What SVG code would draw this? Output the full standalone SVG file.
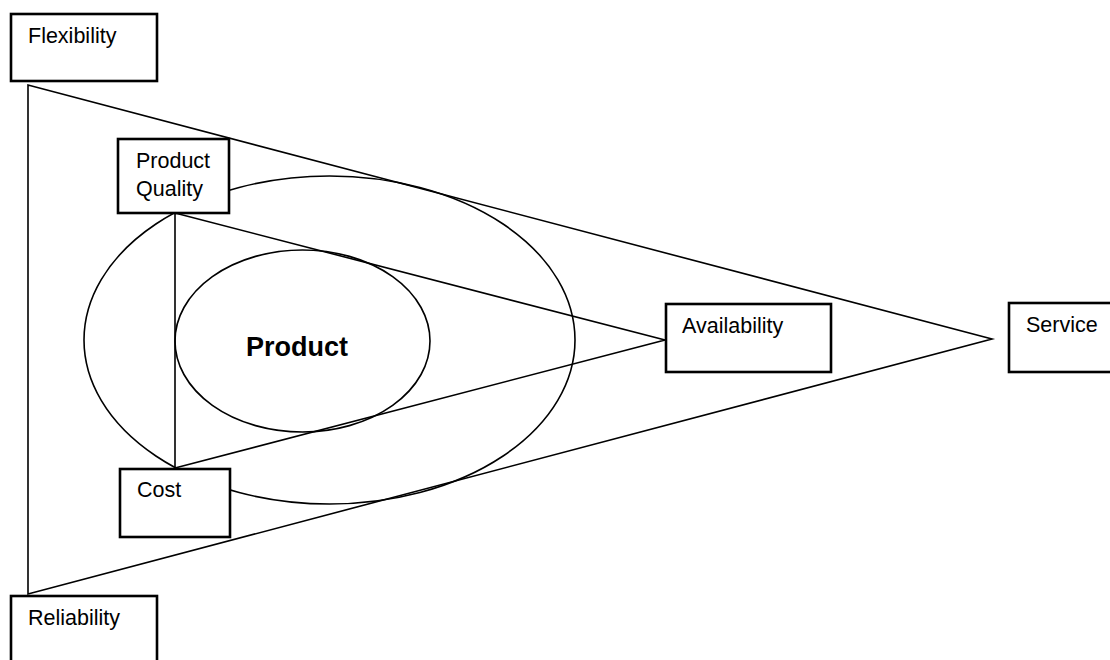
<svg xmlns="http://www.w3.org/2000/svg" width="1110" height="660" viewBox="0 0 1110 660">
<style>
.ln{fill:none;stroke:#000;stroke-width:1.6}
.bx{fill:#fff;stroke:#000;stroke-width:2.6}
.t{font-family:"Liberation Sans",Arial,sans-serif;font-size:21.5px;fill:#000}
.big{font-family:"Liberation Sans",Arial,sans-serif;font-size:27px;font-weight:bold;fill:#000}
</style>
<rect width="1110" height="660" fill="#fff"/>
<g id="connectors">
<polygon class="ln" points="28,85 28,594 992,339"/>
<ellipse class="ln" cx="329.5" cy="340" rx="245.5" ry="164"/>
<polygon class="ln" points="175,213 175,468 665,340"/>
</g>
<g id="product">
<ellipse class="ln" cx="302.5" cy="341" rx="127.5" ry="91"/>
<text class="big" x="297" y="356" text-anchor="middle">Product</text>
</g>
<g id="flexibility">
<rect class="bx" x="11" y="14" width="146" height="67"/>
<text class="t" x="28" y="43">Flexibility</text>
</g>
<g id="reliability">
<rect class="bx" x="11" y="596" width="146" height="80"/>
<text class="t" x="28" y="625">Reliability</text>
</g>
<g id="product-quality">
<rect class="bx" x="118" y="139" width="111" height="74"/>
<text class="t" x="136" y="168">Product</text>
<text class="t" x="136" y="196">Quality</text>
</g>
<g id="cost">
<rect class="bx" x="120" y="469" width="110" height="68"/>
<text class="t" x="137" y="497">Cost</text>
</g>
<g id="availability">
<rect class="bx" x="666" y="304" width="165" height="68"/>
<text class="t" x="682" y="333">Availability</text>
</g>
<g id="service">
<rect class="bx" x="1009" y="303" width="110" height="69"/>
<text class="t" x="1026" y="332">Service</text>
</g>
</svg>
